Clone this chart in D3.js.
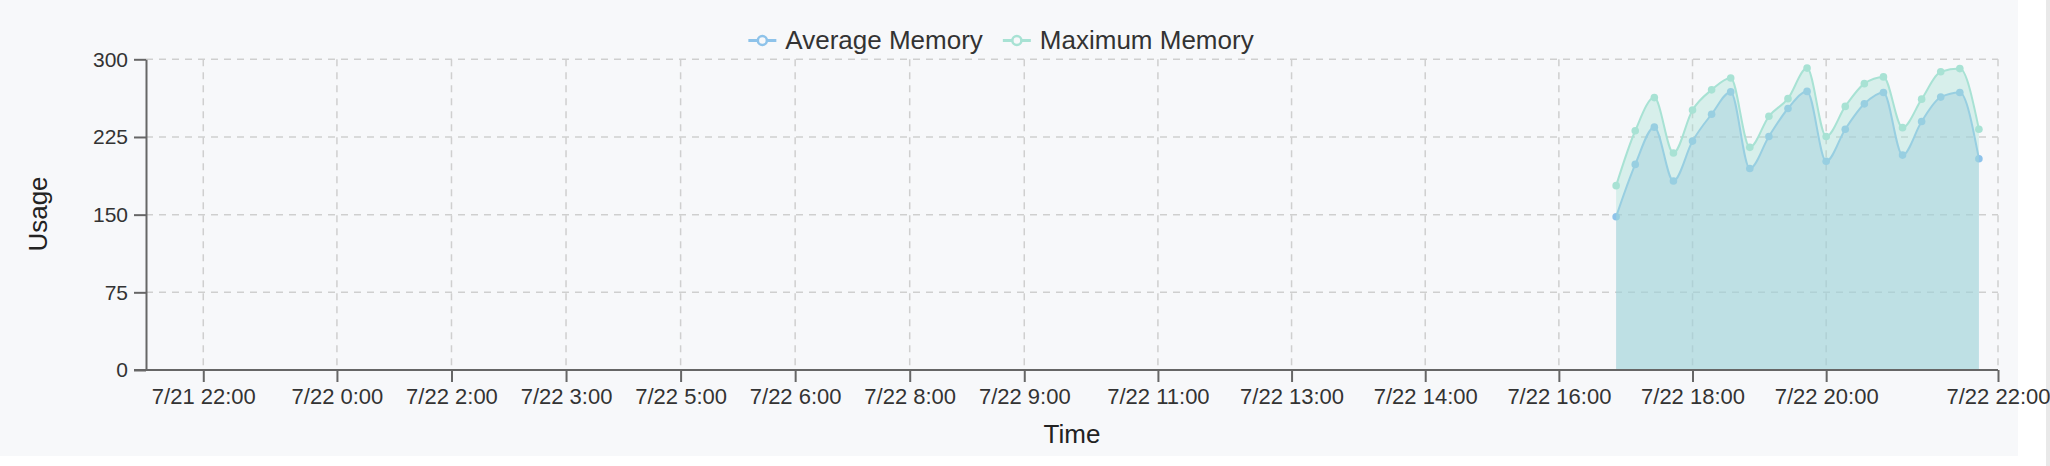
<!DOCTYPE html>
<html>
<head>
<meta charset="utf-8">
<script src="https://cdn.jsdelivr.net/npm/d3@7"></script>
<style>
  html, body { margin: 0; padding: 0; background: #ffffff; }
  svg { display: block; }
  text { font-family: "Helvetica Neue", Helvetica, Arial, "Liberation Sans", sans-serif; }
</style>
</head>
<body>
<svg id="chart" width="2050" height="466"></svg>
<script>
// ---- data ----
const seriesNames = ["Average Memory", "Maximum Memory"];
const categoryCount = 98;               // number of time slots on the category axis
const dataSlots = d3.range(77, 97);      // slots that carry samples
const avgMemory = [148, 198.5, 234.5, 182.5, 221, 247, 268.5, 194.5, 225.5, 252.5,
                   269, 201.5, 232.5, 257, 268, 207.5, 240, 263.5, 268, 204];
const maxMemory = [178, 231, 263, 209.5, 251, 270.5, 282, 215, 245, 262,
                   291.5, 225.5, 254.5, 276.5, 283, 234, 261.5, 288, 291, 232.5];
const tickSlots  = [3, 10, 16, 22, 28, 34, 40, 46, 53, 60, 67, 74, 81, 88, 97];
const tickLabels = ["7/21 22:00", "7/22 0:00", "7/22 2:00", "7/22 3:00", "7/22 5:00",
                    "7/22 6:00", "7/22 8:00", "7/22 9:00", "7/22 11:00", "7/22 13:00",
                    "7/22 14:00", "7/22 16:00", "7/22 18:00", "7/22 20:00", "7/22 22:00"];
const yTicks = [0, 75, 150, 225, 300];

(function () {
// ---- layout ----
const svg = d3.select("#chart");
const pLeft = 146, pRight = 1998, pTop = 59.3, pBottom = 370;
const colAvg = "#8ec3ea", colMax = "#a8e2d4";
const bg = "#f7f8fa";
const fam = "\"Helvetica Neue\", Helvetica, Arial, \"Liberation Sans\", sans-serif";

svg.append("rect").attr("x", 0).attr("y", 0).attr("width", 2018).attr("height", 456).attr("fill", bg);
svg.append("rect").attr("x", 2046).attr("y", 0).attr("width", 4).attr("height", 466).attr("fill", "#e9e9e9");

const x = d3.scalePoint().domain(d3.range(categoryCount)).range([pLeft, pRight]);
const y = d3.scaleLinear().domain([0, 300]).range([pBottom, pTop]);

// grid
const grid = svg.append("g").attr("stroke", "#cfcfcf").attr("stroke-width", 1.5).attr("stroke-dasharray", "7,6");
grid.selectAll("line.h").data(yTicks.filter(d => d > 0)).join("line").attr("class", "h")
  .attr("x1", pLeft).attr("x2", pRight).attr("y1", d => y(d)).attr("y2", d => y(d));
grid.selectAll("line.v").data(tickSlots).join("line").attr("class", "v")
  .attr("x1", d => x(d)).attr("x2", d => x(d)).attr("y1", pTop).attr("y2", pBottom);

const avgData = dataSlots.map((s, i) => ({ s, v: avgMemory[i] }));
const maxData = dataSlots.map((s, i) => ({ s, v: maxMemory[i] }));
const curve = d3.curveMonotoneX;
const area = d3.area().x(d => x(d.s)).y0(y(0)).y1(d => y(d.v)).curve(curve);
const line = d3.line().x(d => x(d.s)).y(d => y(d.v)).curve(curve);

function drawSeries(data, lineCol, fillCol) {
  svg.append("path").datum(data).attr("d", area).attr("fill", fillCol).attr("fill-opacity", 0.4);
  svg.append("path").datum(data).attr("d", line).attr("fill", "none").attr("stroke", lineCol).attr("stroke-width", 2);
  svg.append("g").selectAll("circle").data(data).join("circle")
    .attr("cx", d => x(d.s)).attr("cy", d => y(d.v)).attr("r", 3.8).attr("fill", lineCol);
}
drawSeries(avgData, colAvg, "rgb(145,185,222)");
drawSeries(maxData, colMax, colMax);

// axes
const xAxis = svg.append("g").attr("transform", `translate(0,${pBottom})`)
  .call(d3.axisBottom(x).tickValues(tickSlots).tickFormat((d, i) => tickLabels[i]).tickSize(12).tickPadding(6).tickSizeOuter(0));
const yAxis = svg.append("g").attr("transform", `translate(${pLeft},0)`)
  .call(d3.axisLeft(y).tickValues(yTicks).tickSize(12).tickPadding(6).tickSizeOuter(0));
[xAxis, yAxis].forEach(a => {
  a.select(".domain").attr("stroke", "#666").attr("stroke-width", 2);
  a.selectAll(".tick line").attr("stroke", "#666").attr("stroke-width", 2);
  a.selectAll(".tick text").attr("fill", "#333").style("font-family", fam);
});
xAxis.selectAll(".tick text").style("font-size", "22px");
yAxis.selectAll(".tick text").style("font-size", "21px");
xAxis.select(".domain").attr("d", `M${pLeft - 12},0H${pRight}`);

// axis titles
svg.append("text").attr("x", 1072).attr("y", 443).attr("text-anchor", "middle")
  .attr("fill", "#222").style("font-size", "26px").text("Time");
svg.append("text").attr("transform", "translate(38,214) rotate(-90)").attr("text-anchor", "middle")
  .attr("dominant-baseline", "central").attr("fill", "#222").style("font-size", "26px").text("Usage");

// legend
const legend = svg.append("g");
const legendColors = [colAvg, colMax];
const items = seriesNames.map((name, i) => {
  const g = legend.append("g");
  g.append("line").attr("x1", 0).attr("x2", 28).attr("y1", 1).attr("y2", 1)
    .attr("stroke", legendColors[i]).attr("stroke-width", 3);
  g.append("circle").attr("cx", 14).attr("cy", 1).attr("r", 4.5)
    .attr("fill", bg).attr("stroke", legendColors[i]).attr("stroke-width", 2.5);
  const t = g.append("text").attr("x", 37).attr("y", 0).attr("dominant-baseline", "central")
    .attr("fill", "#333").style("font-size", "26px").text(name);
  return { g, w: 37 + t.node().getComputedTextLength() };
});
const gap = 20;
const total = d3.sum(items, d => d.w) + gap * (items.length - 1);
let cx = 1001 - total / 2;
items.forEach(it => { it.g.attr("transform", `translate(${cx},39.5)`); cx += it.w + gap; });
})();
</script>
</body>
</html>
